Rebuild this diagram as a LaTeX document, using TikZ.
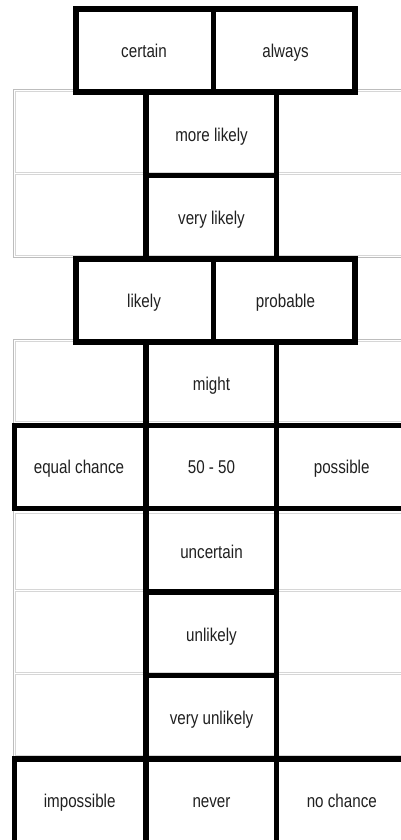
\documentclass[tikz,border=0pt]{standalone}
\usepackage{fontspec}
\usepackage{graphicx}
\setmainfont{Liberation Sans}
\definecolor{txt}{HTML}{202020}
\definecolor{gout}{HTML}{BDBDBD}
\definecolor{gin}{HTML}{D6D6D6}
\newcommand\cnd[1]{\scalebox{0.82}[1]{#1}}
\begin{document}
\begin{tikzpicture}[x=1pt,y=-1pt,
  thk/.style={line width=5.5pt, draw=black},
  gouter/.style={line width=0.8pt, draw=gout},
  ginner/.style={line width=0.8pt, draw=gin},
  lbl/.style={font=\fontsize{18.5}{21}\selectfont, text=txt, inner sep=0pt, anchor=base}]
\useasboundingbox (0,0) rectangle (401,840);
\clip (0,0) rectangle (401,840);
\fill[white] (0,0) rectangle (401,840);

% gray table B
\draw[gouter] (13.3,89.3) rectangle (430,257.3);
\draw[ginner] (15.8,91.3) rectangle (430,172.3);
\draw[ginner] (15.8,174.3) rectangle (430,255.3);

% gray table D
\draw[gouter] (13.3,339.3) rectangle (430,860);
\draw[ginner] (15.8,341.3) rectangle (430,421);
\draw[ginner] (15.8,513.5) rectangle (430,589.8);
\draw[ginner] (15.8,591.8) rectangle (430,672.7);
\draw[ginner] (15.8,674.7) rectangle (430,755);

% center column B
\draw[thk] (146,92) -- (146,259);
\draw[thk] (276.7,92) -- (276.7,259);
\draw[thk] (146,175.5) -- (276.7,175.5);

% center column D
\draw[thk] (146,342) -- (146,860);
\draw[thk] (276.7,342) -- (276.7,860);
\draw[thk] (146,592.2) -- (276.7,592.2);
\draw[thk] (146,675.5) -- (276.7,675.5);

% table A
\draw[thk] (76,8.8) rectangle (355,92.2);
\draw[thk] (213.3,8.8) -- (213.3,92.2);

% table C
\draw[thk] (76,258.8) rectangle (355,342.2);
\draw[thk] (213.3,258.8) -- (213.3,342.2);

% equal chance row
\draw[thk] (14.7,425.4) rectangle (430,508.7);

% bottom row
\draw[thk] (14.7,758.8) rectangle (430,870);

% labels
\node[lbl] (certain) at (144,57.5) {\cnd{certain}};
\node[lbl] (always) at (285.5,57.5) {\cnd{always}};
\node[lbl] (morelikely) at (211.5,141.3) {\cnd{more likely}};
\node[lbl] (verylikely) at (211.5,224) {\cnd{very likely}};
\node[lbl] (likely) at (144,307.5) {\cnd{likely}};
\node[lbl] (probable) at (285.5,307.5) {\cnd{probable}};
\node[lbl] (might) at (211.5,390.8) {\cnd{might}};
\node[lbl] (equal) at (79,473.5) {\cnd{equal chance}};
\node[lbl] (fifty) at (211.5,473.5) {\cnd{50 - 50}};
\node[lbl] (possible) at (341.7,473.5) {\cnd{possible}};
\node[lbl] (uncertain) at (211.5,558.4) {\cnd{uncertain}};
\node[lbl] (unlikely) at (211.5,641.5) {\cnd{unlikely}};
\node[lbl] (veryunlikely) at (211.5,724.3) {\cnd{very unlikely}};
\node[lbl] (impossible) at (79.7,807.7) {\cnd{impossible}};
\node[lbl] (never) at (211.5,807.7) {\cnd{never}};
\node[lbl] (nochance) at (341.8,807.7) {\cnd{no chance}};
\end{tikzpicture}
\end{document}
